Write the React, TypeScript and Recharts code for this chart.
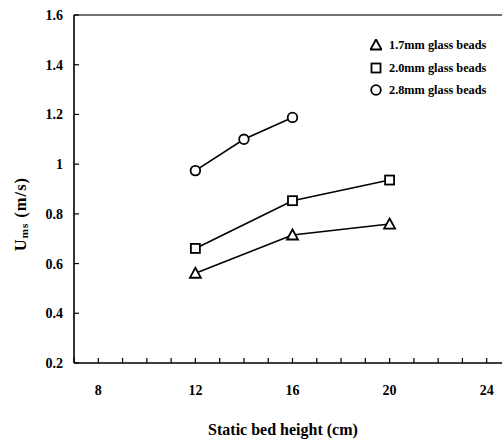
import React from 'react';
import { LineChart, Line, XAxis, YAxis, ReferenceLine } from 'recharts';

// --- data ---
const heights17 = [12, 16, 20];
const ums17 = [0.561, 0.715, 0.759];
const heights20 = [12, 16, 20];
const ums20 = [0.661, 0.853, 0.936];
const heights28 = [12, 14, 16];
const ums28 = [0.974, 1.1, 1.188];

const xTicks = [7, 8, 9, 10, 11, 12, 13, 14, 15, 16, 17, 18, 19, 20, 21, 22, 23, 24];
const xLabelTicks = [8, 12, 16, 20, 24];
const yTicks = [0.2, 0.4, 0.6, 0.8, 1, 1.2, 1.4, 1.6];

const FONT = '"Liberation Serif", "Times New Roman", serif';

const toRows = (xs: number[], ys: number[]) => xs.map((x, i) => ({ x, y: ys[i] }));

const series = [
  { name: '1.7mm glass beads', shape: 'triangle', data: toRows(heights17, ums17) },
  { name: '2.0mm glass beads', shape: 'square', data: toRows(heights20, ums20) },
  { name: '2.8mm glass beads', shape: 'circle', data: toRows(heights28, ums28) },
];

const Marker = ({ cx, cy, shape }: { cx: number; cy: number; shape: string }) => {
  const common = { fill: '#fff', stroke: '#000', strokeWidth: 1.8 };
  if (shape === 'triangle') {
    return <path d={`M${cx},${cy - 5.5} L${cx + 5.5},${cy + 4.5} L${cx - 5.5},${cy + 4.5} Z`} {...common} />;
  }
  if (shape === 'square') {
    return <rect x={cx - 4.5} y={cy - 4.5} width={9} height={9} {...common} />;
  }
  return <circle cx={cx} cy={cy} r={4.8} {...common} />;
};

// legend sits inside the plot, top right
const LegendBox = () => (
  <div
    style={{
      position: 'absolute', left: 370, top: 34,
      fontFamily: FONT, fontWeight: 'bold', fontSize: 12.3, lineHeight: '22.5px',
    }}
  >
    {series.map(s => (
      <div key={s.name} style={{ display: 'flex', alignItems: 'center', whiteSpace: 'nowrap' }}>
        <svg width={12} height={12} style={{ marginRight: 7 }}>
          <Marker cx={6} cy={6} shape={s.shape} />
        </svg>
        <span>{s.name}</span>
      </div>
    ))}
  </div>
);

const YLabel = () => {
  const cx = 20;
  const cy = 214;
  return (
    <text
      x={cx}
      y={cy}
      transform={`rotate(-90 ${cx} ${cy})`}
      textAnchor="middle"
      dominantBaseline="central"
      fontFamily={FONT}
      fontWeight="bold"
      fontSize={16.5}
      letterSpacing={1}
      fill="#000"
    >
      U<tspan fontSize={11} dy={3.5}>ms</tspan>
      <tspan dy={-3.5}> (m/s)</tspan>
    </text>
  );
};

const XLabel = () => (
  <text x={283} y={435} textAnchor="middle" fontFamily={FONT} fontWeight="bold" fontSize={16} fill="#000">
    Static bed height (cm)
  </text>
);

const App = () => {
  const tickStyle = { fontFamily: FONT, fontWeight: 'bold', fontSize: 14, fill: '#000' };
  return (
    <div style={{ position: 'absolute', left: 0, top: 0, width: 502, height: 441, background: '#fff', fontFamily: FONT }}>
      <LineChart width={502} height={441} margin={{ top: 15, right: 0, bottom: 0, left: 0 }}>
        <XAxis
          type="number"
          dataKey="x"
          domain={[7, 24.63]}
          ticks={xTicks}
          tickFormatter={(v: number) => (xLabelTicks.includes(v) ? String(v) : '')}
          allowDataOverflow
          height={78}
          tickSize={-5}
          tickMargin={27}
          tick={tickStyle}
          axisLine={{ stroke: '#000', strokeWidth: 1.6 }}
          tickLine={{ stroke: '#000', strokeWidth: 1.2 }}
          label={<XLabel />}
        />
        <YAxis
          type="number"
          domain={[0.2, 1.6]}
          ticks={yTicks}
          width={74}
          tickSize={-5}
          tickMargin={16}
          tick={tickStyle}
          axisLine={{ stroke: '#000', strokeWidth: 1.6 }}
          tickLine={{ stroke: '#000', strokeWidth: 1.2 }}
          label={<YLabel />}
        />
        <ReferenceLine y={1.6} stroke="#444" strokeWidth={1.4} ifOverflow="visible" />
        {series.map(s => (
          <Line
            key={s.name}
            data={s.data}
            dataKey="y"
            name={s.name}
            stroke="#000"
            strokeWidth={1.6}
            isAnimationActive={false}
            dot={(p: any) => <Marker key={`${s.name}-${p.index}`} cx={p.cx} cy={p.cy} shape={s.shape} />}
            activeDot={false}
          />
        ))}
      </LineChart>
      <LegendBox />
    </div>
  );
};

export default App;
